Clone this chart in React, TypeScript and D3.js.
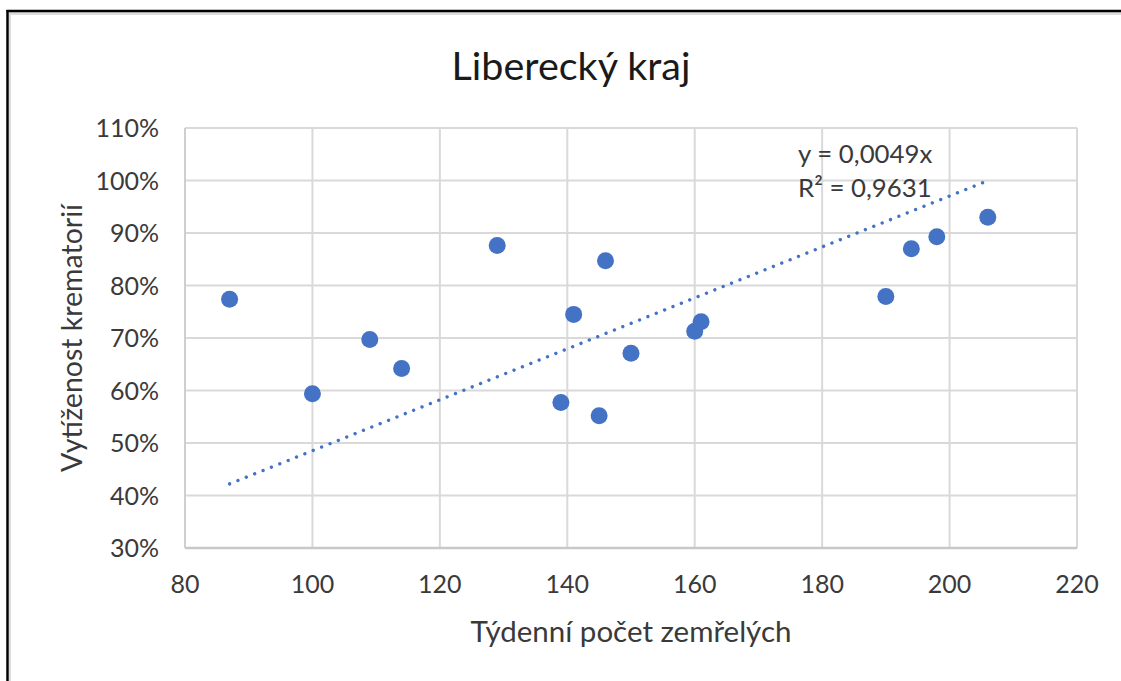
import React from "react";
import * as d3 from "d3";

const TITLE = "Liberecký kraj";
const X_TITLE = "Týdenní počet zemřelých";
const Y_TITLE = "Vytíženost krematorií";
const EQ_LINE1 = "y = 0,0049x";
const EQ_LINE2 = "R² = 0,9631";

const deaths = [87, 100, 109, 114, 129, 139, 141, 145, 146, 150, 160, 161, 190, 194, 198, 206];
const utilization = [0.774, 0.594, 0.697, 0.642, 0.876, 0.577, 0.745, 0.552, 0.847, 0.671, 0.713, 0.731, 0.779, 0.87, 0.893, 0.93];

const xTicks = [80, 100, 120, 140, 160, 180, 200, 220];
const yTicks = [0.3, 0.4, 0.5, 0.6, 0.7, 0.8, 0.9, 1.0, 1.1];

const W = 1121;
const H = 681;
const FONT = "Lato, 'Open Sans', sans-serif";
const TEXT = "#3a3a3a";
const GRID = "#d9d9d9";
const BLUE = "#4472C4";

export default function App() {
  const x = d3.scaleLinear().domain([80, 220]).range([185, 1077]);
  const y = d3.scaleLinear().domain([0.3, 1.1]).range([548, 128]);

  const points = deaths.map((d, i) => ({ x: d, y: utilization[i] }));
  const sxy = d3.sum(points, (p) => p.x * p.y);
  const sxx = d3.sum(points, (p) => p.x * p.x);
  const slope = sxy / sxx;
  const [xmin, xmax] = d3.extent(deaths) as [number, number];
  const trend = d3.line<number>().x((d) => x(d)).y((d) => y(slope * d));
  const pct = d3.format(".0%");

  return (
    <svg
      width={W}
      height={H}
      style={{ position: "absolute", left: 0, top: 0, overflow: "hidden", background: "#fff" }}
    >
      <rect x={0} y={0} width={W} height={H} fill="#fff" />
      {/* frame */}
      <line x1={9} x2={W + 10} y1={13.5} y2={13.5} stroke="#dcdcdc" strokeWidth={3} />
      <line x1={10} x2={10} y1={12} y2={H + 10} stroke="#dcdcdc" strokeWidth={2} />
      <line x1={6.5} x2={W + 10} y1={11} y2={11} stroke="#000" strokeWidth={2.5} />
      <line x1={7.5} x2={7.5} y1={10} y2={H + 10} stroke="#000" strokeWidth={2.5} />

      {/* title */}
      <text x={571} y={80} textAnchor="middle" fontFamily={FONT} fontSize={39.5} fill="#1a1a1a">
        {TITLE}
      </text>

      {/* grid */}
      {yTicks.map((t) => (
        <line key={"gy" + t} x1={x(80)} x2={x(220)} y1={y(t)} y2={y(t)} stroke={GRID} strokeWidth={2} />
      ))}
      {xTicks.map((t) => (
        <line key={"gx" + t} x1={x(t)} x2={x(t)} y1={y(0.3)} y2={y(1.1)} stroke={GRID} strokeWidth={2} />
      ))}
      <line x1={x(80)} x2={x(220)} y1={y(0.3)} y2={y(0.3)} stroke="#c8c8c8" strokeWidth={2.5} />
      <line x1={x(80)} x2={x(80)} y1={y(0.3)} y2={y(1.1)} stroke="#cfcfcf" strokeWidth={2} />

      {/* tick labels */}
      {yTicks.map((t) => (
        <text key={"ly" + t} x={159} y={y(t)} dy="0.36em" textAnchor="end" fontFamily={FONT} fontSize={25} fill={TEXT}>
          {pct(t)}
        </text>
      ))}
      {xTicks.map((t) => (
        <text key={"lx" + t} x={x(t)} y={593} textAnchor="middle" fontFamily={FONT} fontSize={25} fill={TEXT}>
          {t}
        </text>
      ))}

      {/* axis titles */}
      <text x={631} y={642} textAnchor="middle" fontFamily={FONT} fontSize={29.5} fill={TEXT}>
        {X_TITLE}
      </text>
      <text
        transform={`translate(82, ${(y(0.3) + y(1.1)) / 2}) rotate(-90)`}
        textAnchor="middle"
        fontFamily={FONT}
        fontSize={28.5}
        fill={TEXT}
      >
        {Y_TITLE}
      </text>

      {/* trendline */}
      <path
        d={trend([xmin, xmax]) || ""}
        fill="none"
        stroke={BLUE}
        strokeWidth={3.4}
        strokeLinecap="round"
        strokeDasharray="0.01 9"
      />

      {/* points */}
      {points.map((p, i) => (
        <circle key={i} cx={x(p.x)} cy={y(p.y)} r={8.5} fill={BLUE} />
      ))}

      {/* equation */}
      <text x={798} y={163} fontFamily={FONT} fontSize={25.8} fill={TEXT}>
        {EQ_LINE1}
      </text>
      <text x={798} y={197} fontFamily={FONT} fontSize={25.8} fill={TEXT}>
        {EQ_LINE2}
      </text>
    </svg>
  );
}
